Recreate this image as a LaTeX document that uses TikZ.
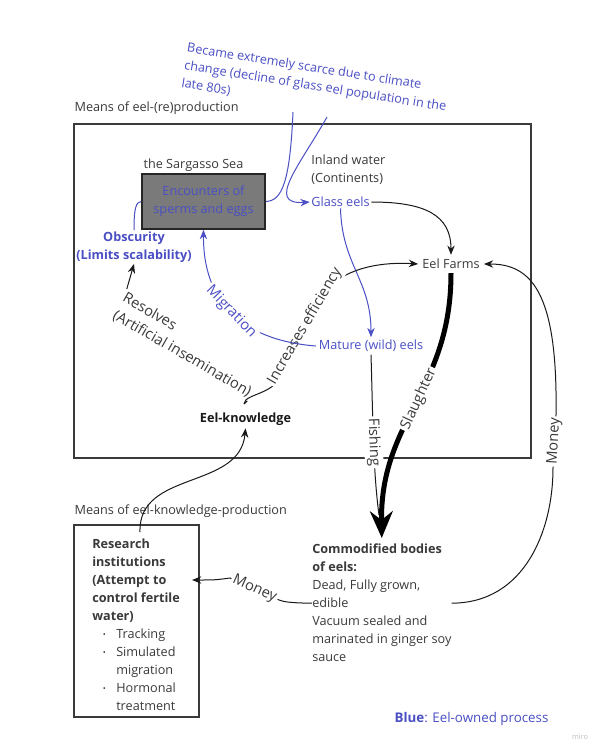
\documentclass[tikz,border=0pt]{standalone}
\usepackage{fontspec}
\setmainfont{Open Sans}
\usetikzlibrary{arrows.meta}
\definecolor{eelblue}{HTML}{4A4FC4}
\definecolor{ink}{HTML}{3A3A3A}
\definecolor{seagray}{HTML}{7A7A7A}
\newcommand{\eelbul}{\hspace*{8pt}\makebox[10pt][l]{\fontsize{6}{6}\selectfont\raisebox{0.4ex}{•}}}
\newcommand{\eelind}{\hspace*{18pt}}

\begin{document}
\begin{tikzpicture}[
    x=0.75pt, y=-0.75pt,
    font=\fontsize{9.5}{13.5}\selectfont,
    txt/.style={text=ink, inner sep=1pt},
    bluetxt/.style={text=eelblue, inner sep=1pt},
    heading/.style={txt, anchor=west},
    lbl/.style={fill=white, inner sep=1.5pt, text=ink, font=\fontsize{11}{15}\selectfont},
    frame/.style={draw=ink, line width=1.5pt},
    seabox/.style={draw=black!85, line width=1.5pt, fill=seagray, minimum width=92pt, minimum height=41pt, text=eelblue, align=center},
    conn/.style={draw=black!90, line width=0.75pt},
    arrow/.style={conn, -{Stealth[length=7pt, width=5.5pt]}},
    bluearrow/.style={draw=eelblue, line width=0.75pt, -{Stealth[length=7pt, width=5.5pt]}},
    bigarrow/.style={draw=black, line width=3.75pt, -{Stealth[length=20pt, width=17pt]}}
]
    \fill[white] (0,0) rectangle (609,750);
    \useasboundingbox (0,0) rectangle (609,750);

    % the two frames
    \node[heading] (meansrepro) at (73,108) {Means of eel-(re)production};
    \draw[frame] (74,124) rectangle (531,458);
    \node[heading] (meansknow) at (73,511) {Means of eel-knowledge-production};
    \node[frame, minimum width=93.75pt, minimum height=144pt, anchor=north west] (research) at (73,524) {};

    % note on top
    \node[bluetxt, rotate=-9, anchor=north west, align=left, inner sep=0] (scarce) at (188,42)
        {Became extremely scarce due to climate\\change (decline of glass eel population in the\\late 80s)};
    \coordinate (note1) at (293,112);
    \coordinate (note2) at (327,117);

    % nodes
    \node[heading] (sealabel) at (142,165) {the Sargasso Sea};
    \node[seabox] (sargasso) at (203.5,201.5) {Encounters of\\sperms and eggs};
    \node[txt, anchor=north west, align=left, inner sep=0] (inland) at (311,155) {Inland water\\(Continents)};
    \node[bluetxt] (glass) at (340.5,202) {Glass eels};
    \node[bluetxt, font=\fontsize{9.5}{13.5}\selectfont\bfseries, align=center] (obscurity) at (134,247) {Obscurity\\(Limits scalability)};
    \node[txt, inner sep=3pt] (farms) at (451,264) {Eel Farms};
    \node[bluetxt, inner sep=2pt] (mature) at (371,346) {Mature (wild) eels};
    \node[txt, font=\fontsize{9.5}{13.5}\selectfont\bfseries, text=black!90, inner sep=2pt] (eelknow) at (245.5,419) {Eel-knowledge};
    \node[lbl, rotate=-30, align=left, inner sep=1pt] (resolves) at (187,345) {Resolves\\(Artificial insemination)};

    \node[txt, anchor=north west, align=left, inner sep=0] (restext) at (92,539)
        {\textbf{Research}\\\textbf{institutions}\\\textbf{(Attempt to}\\\textbf{control fertile}\\\textbf{water)}\\
         \eelbul Tracking\\\eelbul Simulated\\\eelind migration\\\eelbul Hormonal\\\eelind treatment};
    \node[txt, anchor=north west, align=left, inner sep=0] (comm) at (312,544)
        {\textbf{Commodified bodies}\\\textbf{of eels:}\\Dead, Fully grown,\\edible\\Vacuum sealed and\\marinated in ginger soy\\sauce};

    \node[bluetxt, anchor=west, font=\fontsize{10}{12}\selectfont] (legend) at (393,719) {\textbf{Blue}: Eel-owned process};
    \node[text=black!25, font=\fontsize{5.5}{6}\selectfont] (miro) at (580,737) {miro};

    % connectors
    \coordinate (ekjoin) at (244,404);
    \coordinate (fishend) at (379,515);
    \coordinate (resstart) at (140,532);
    \coordinate (resmoney) at (192,580);

    \draw[conn, eelblue] (note1) .. controls (290,182) and (282,201) .. (sargasso.east);
    \draw[bluearrow] (note2) .. controls (300,165) and (265,205) .. (glass.west);
    \draw[arrow] (glass.east) .. controls (425,202) and (451,215) .. (farms.north);
    \draw[bluearrow] (glass.south) .. controls (342,265) and (371,280) .. (mature.north);
    \draw[conn, eelblue] (obscurity.north) .. controls (134,208) and (136,202) .. (sargasso.west);

    \draw[arrow] (ekjoin) .. controls (244,392) and (284,396) .. (284,362)
        -- node[lbl, sloped] {Increases efficiency} (326,290)
        .. controls (348,266) and (385,262) .. (farms.west);
    \draw[conn] (ekjoin) -- (resolves.south east);
    \draw[arrow] (resolves.north west) -- (obscurity.south);
    \draw[bluearrow] (mature.west) .. controls (240,340) and (203,300)
        .. node[lbl, sloped, text=eelblue] {Migration} (sargasso.south);

    \draw[conn] (mature.south) .. controls (373,420) and (373,470) .. node[lbl, sloped] {Fishing} (fishend);
    \draw[bigarrow, shorten >=4.5pt] (farms.south) .. controls (451,390) and (380,420)
        .. node[lbl, sloped, pos=0.47] {Slaughter} (comm.north);

    \draw[arrow] (comm.east) .. controls (525,603) and (553,530) .. (553,468)
        -- node[lbl, sloped] {Money} (556,415)
        .. controls (558,290) and (530,264) .. (farms.east);
    \draw[arrow] (comm.west) .. controls (292,603) and (284,602) .. (279,600)
        -- node[lbl, sloped] {Money} (230,578)
        .. controls (215,580) .. (resmoney);
    \draw[arrow] (resstart) .. controls (138,470) and (240,490) .. (eelknow.south);
\end{tikzpicture}
\end{document}
